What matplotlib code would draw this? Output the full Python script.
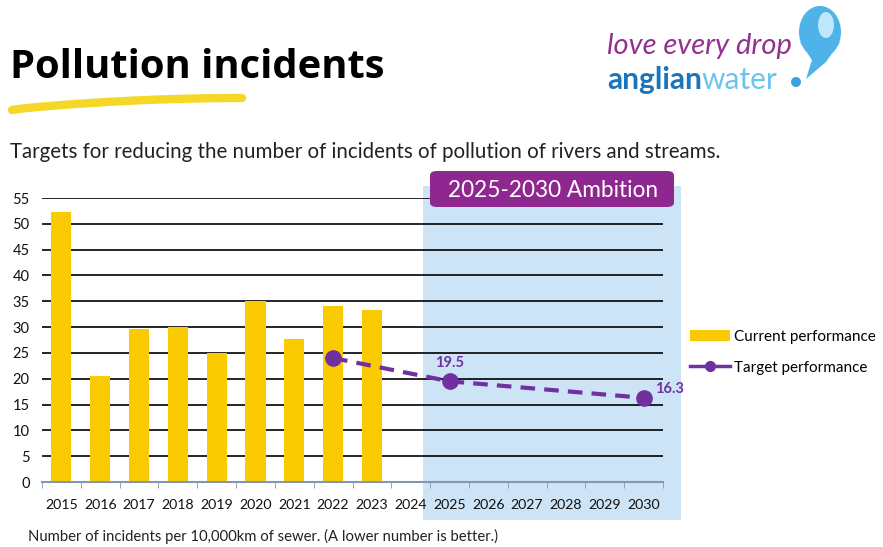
import numpy as np
import matplotlib.pyplot as plt
from matplotlib.patches import Rectangle, FancyBboxPatch, Ellipse, Polygon
from matplotlib.lines import Line2D

plt.rcParams['font.family'] = ['Lato', 'DejaVu Sans']

# data
years = ['2015', '2016', '2017', '2018', '2019', '2020', '2021', '2022',
         '2023', '2024', '2025', '2026', '2027', '2028', '2029', '2030']
current = [52.2, 20.6, 29.6, 30.0, 25.0, 35.1, 27.6, 34.0, 33.4]
target_years = ['2022', '2025', '2030']
target = [24.0, 19.5, 16.3]
labelled = {'2025': '19.5', '2030': '16.3'}

YELLOW = '#f9cb00'
PURPLE = '#7030a0'
BOX_PURPLE = '#8e278f'
LIGHT_BLUE = '#cce4f6'

W, H = 883, 547
fig = plt.figure(figsize=(W / 100, H / 100), dpi=100)

def px(x, y):
    return x / W, 1 - y / H

# chart axes
x0, y0 = px(42, 482)
x1, y1 = px(663, 198)
ax = fig.add_axes([x0, y0, x1 - x0, y1 - y0])
ax.patch.set_alpha(0)

xi = np.arange(len(years))
ax.bar(xi[:len(current)], current, width=0.52, color=YELLOW, zorder=3)

ti = [years.index(y) for y in target_years]
ax.plot(ti, target, color=PURPLE, lw=3, ls=(0, (3.5, 2.2)), marker='o',
        markersize=11, zorder=4, clip_on=False)
for yr, txt in labelled.items():
    i = years.index(yr)
    v = target[target_years.index(yr)]
    if yr == '2030':
        ax.text(i + 0.3, v + 0.4, txt, color=PURPLE, fontsize=10.5, fontweight='bold',
                ha='left', va='bottom')
    else:
        ax.text(i, v + 2.2, txt, color=PURPLE, fontsize=10.5, fontweight='bold',
                ha='center', va='bottom')

ax.set_xlim(-0.5, len(years) - 0.5)
ax.set_ylim(0, 55)
ax.set_yticks(np.arange(0, 56, 5))
ax.set_xticks(xi)
ax.set_xticklabels(years)
ax.set_xticks(np.arange(-0.5, len(years), 1), minor=True)
ax.tick_params(axis='x', which='major', length=0, pad=12, labelsize=10.2, colors='#111111')
ax.tick_params(axis='x', which='minor', length=4, color='#8497b0', direction='out')
ax.tick_params(axis='y', length=0, pad=9, labelsize=10.5, colors='#111111')
ax.grid(axis='y', color='black', lw=1.2, zorder=1)
ax.set_axisbelow(True)
for s in ['top', 'right', 'left']:
    ax.spines[s].set_visible(False)
ax.spines['bottom'].set_color('#8497b0')
ax.spines['bottom'].set_linewidth(1.5)
ax.spines['bottom'].set_zorder(5)

# ambition band
ax.add_patch(Rectangle((9.32, -7.4), 15.97 - 9.32, 57.3 + 7.4, facecolor=LIGHT_BLUE,
                       edgecolor='none', zorder=0, clip_on=False))

# ambition label box
bx, by = px(430, 207)
bx2, by2 = px(674, 171)
fig.patches.append(FancyBboxPatch((bx, by), bx2 - bx, by2 - by,
                                  boxstyle='round,pad=0,rounding_size=0.008',
                                  transform=fig.transFigure, facecolor=BOX_PURPLE,
                                  edgecolor='none', zorder=6))
tx, ty = px(553, 190)
fig.text(tx, ty, '2025-2030 Ambition', color='white', fontsize=16.3, ha='center',
         va='center', zorder=7)

# legend
handles = [Rectangle((0, 0), 1, 1, facecolor=YELLOW),
           Line2D([0], [0], color=PURPLE, lw=2.5, marker='o', markersize=7)]
lx, ly = px(690, 330)
fig.legend(handles, ['Current performance', 'Target performance'], loc='upper left',
           bbox_to_anchor=(lx, ly), frameon=False, fontsize=11, handlelength=2.6,
           labelspacing=1.1, handletextpad=0.3, borderpad=0, borderaxespad=0)

# title and swoosh
tx, ty = px(10, 67)
fig.text(tx, ty, 'Pollution incidents', fontsize=28.7, fontweight='bold', color='black',
         ha='left', va='center', family=['Open Sans', 'DejaVu Sans'])
sx = np.linspace(12, 242, 40)
sy = 110 - 12 * np.sin((sx - 12) / 230 * np.pi / 2) ** 0.8
fig.add_artist(Line2D(sx / W, 1 - sy / H, color='#f5d727', lw=6,
                      solid_capstyle='round', transform=fig.transFigure))

# subtitle and footnote
tx, ty = px(10, 152)
fig.text(tx, ty, 'Targets for reducing the number of incidents of pollution of rivers and streams.',
         fontsize=14.8, color='#222222', ha='left', va='center')
tx, ty = px(28, 536)
fig.text(tx, ty, 'Number of incidents per 10,000km of sewer. (A lower number is better.)',
         fontsize=10.7, color='#222222', ha='left', va='center')

# logo
tx, ty = px(607, 46)
fig.text(tx, ty, 'love every drop', fontsize=21, style='italic', color='#93328e',
         ha='left', va='center')
tx, ty = px(607, 80)
t1 = fig.text(tx, ty, 'anglian', fontsize=21.5, fontweight='bold', color='#1b75bb',
              ha='left', va='center')
fig.canvas.draw()
bb = t1.get_window_extent()
fig.text(bb.x1 / W, ty, 'water', fontsize=21.5, color='#6cc4ee', ha='left', va='center')
fig.patches.append(Polygon([px(800, 42), px(840, 42), px(826, 62), px(806, 79), px(812, 60)],
                           closed=True, transform=fig.transFigure, facecolor='#4fb2e8',
                           edgecolor='none', zorder=3))
fig.patches.append(Ellipse(px(820, 32), 42 / W, 52 / H, transform=fig.transFigure,
                           facecolor='#4fb2e8', edgecolor='none', zorder=3))
fig.patches.append(Ellipse(px(826, 25), 16 / W, 26 / H, transform=fig.transFigure,
                           facecolor='#bfe6fa', edgecolor='none', zorder=4))
fig.patches.append(Ellipse(px(796, 82), 10 / W, 10 / H, transform=fig.transFigure,
                           facecolor='#3aa3df', edgecolor='none', zorder=3))

fig.savefig('out.png', dpi=100)
